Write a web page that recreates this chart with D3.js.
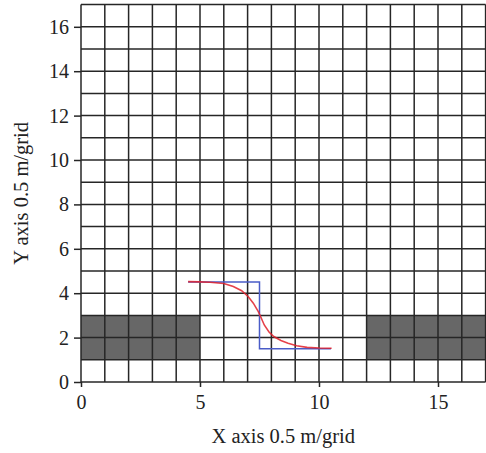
<!DOCTYPE html>
<html>
<head>
<meta charset="utf-8">
<script src="https://cdn.jsdelivr.net/npm/d3@7"></script>
<style>
  html, body { margin: 0; padding: 0; background: #fff; }
</style>
</head>
<body>
<div id="chart"></div>
<script>
// obstacles (grid units)
const obstacles = [
  { x0: 0, x1: 5, y0: 1, y1: 3 },
  { x0: 12, x1: 17, y0: 1, y1: 3 },
];

// planned path (blue polyline)
const plannedPath = [
  [4.5, 4.5], [7.5, 4.5], [7.5, 1.5], [10.5, 1.5],
];

// smoothed trajectory (red curve)
const smoothPath = [
  [4.5, 4.52], [5.0, 4.51], [5.42, 4.49], [6.0, 4.44], [6.4, 4.3],
  [6.75, 4.11], [7.03, 3.84], [7.24, 3.55], [7.45, 3.17], [7.55, 2.94],
  [7.7, 2.57], [7.9, 2.25], [8.1, 2.05], [8.4, 1.87], [8.7, 1.75],
  [9.06, 1.63], [9.5, 1.56], [10.0, 1.53], [10.53, 1.52],
];

const xTicks = [0, 5, 10, 15];
const yTicks = [0, 2, 4, 6, 8, 10, 12, 14, 16];
const xMax = 17;
const yMax = 17;

const width = 486;
const height = 453;
const margin = { top: 4.6, right: 0.4, bottom: 71, left: 81 };
const FONT = '"Liberation Serif", "DejaVu Serif", serif';

const svg = d3
  .select('#chart')
  .append('svg')
  .attr('width', width)
  .attr('height', height)
  .attr('font-family', FONT);

const x = d3
  .scaleLinear()
  .domain([0, xMax])
  .range([margin.left, width - margin.right]);
const y = d3
  .scaleLinear()
  .domain([0, yMax])
  .range([height - margin.bottom, margin.top]);

// obstacles
svg
  .append('g')
  .selectAll('rect')
  .data(obstacles)
  .enter()
  .append('rect')
  .attr('x', (d) => x(d.x0))
  .attr('y', (d) => y(d.y1))
  .attr('width', (d) => x(d.x1) - x(d.x0))
  .attr('height', (d) => y(d.y0) - y(d.y1))
  .attr('fill', '#676767');

// grid
const grid = svg.append('g').attr('stroke', '#262626').attr('stroke-width', 1.5);
grid
  .selectAll('.vline')
  .data(d3.range(0, xMax + 1))
  .enter()
  .append('line')
  .attr('x1', (d) => x(d))
  .attr('x2', (d) => x(d))
  .attr('y1', y(0))
  .attr('y2', y(yMax));
grid
  .selectAll('.hline')
  .data(d3.range(0, yMax + 1))
  .enter()
  .append('line')
  .attr('x1', x(0))
  .attr('x2', x(xMax))
  .attr('y1', (d) => y(d))
  .attr('y2', (d) => y(d));

// axes
const xAxis = d3.axisBottom(x).tickValues(xTicks).tickSize(5).tickPadding(8);
const yAxis = d3.axisLeft(y).tickValues(yTicks).tickSize(7).tickPadding(5);

const styleAxis = (g) => {
  g.attr('font-family', FONT).attr('font-size', 20);
  g.select('.domain').remove();
  g.selectAll('.tick line').attr('stroke', '#262626').attr('stroke-width', 1.5);
  g.selectAll('.tick text').attr('fill', '#222');
};

svg
  .append('g')
  .attr('transform', `translate(0,${y(0)})`)
  .call(xAxis)
  .call(styleAxis);

svg
  .append('g')
  .attr('transform', `translate(${x(0)},0)`)
  .call(yAxis)
  .call(styleAxis);

// paths
const line = d3
  .line()
  .x((d) => x(d[0]))
  .y((d) => y(d[1]));

svg
  .append('path')
  .datum(plannedPath)
  .attr('fill', 'none')
  .attr('stroke', '#4a5cc8')
  .attr('stroke-width', 1.5)
  .attr('d', line);

svg
  .append('path')
  .datum(smoothPath)
  .attr('fill', 'none')
  .attr('stroke', '#e0202a')
  .attr('stroke-opacity', 0.85)
  .attr('stroke-width', 1.6)
  .attr('d', line);

// axis labels
svg
  .append('text')
  .attr('x', (x(0) + x(xMax)) / 2)
  .attr('y', 443)
  .attr('text-anchor', 'middle')
  .attr('font-size', 20.5)
  .attr('fill', '#222')
  .text('X axis 0.5 m/grid');

svg
  .append('text')
  .attr('transform', `translate(28,${(y(0) + y(yMax)) / 2}) rotate(-90)`)
  .attr('text-anchor', 'middle')
  .attr('font-size', 20.5)
  .attr('fill', '#222')
  .text('Y axis 0.5 m/grid');
</script>
</body>
</html>
